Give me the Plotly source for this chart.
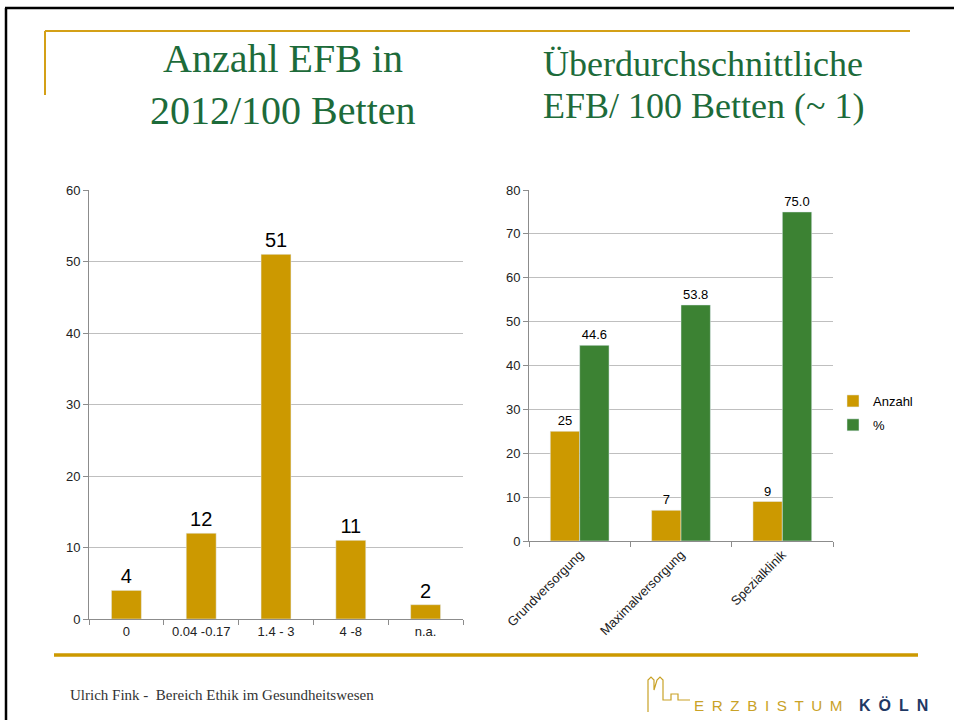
import plotly.graph_objects as go

# ---- data ----
left_categories = ["0", "0.04 -0.17", "1.4 - 3", "4 -8", "n.a."]
left_values = [4, 12, 51, 11, 2]

right_categories = ["Grundversorgung", "Maximalversorgung", "Spezialklinik"]
anzahl_values = [25, 7, 9]
prozent_values = [44.6, 53.8, 75.0]

title_left = ["Anzahl EFB in", "2012/100 Betten"]
title_right = ["Überdurchschnittliche", "EFB/ 100 Betten (~ 1)"]
footer_text = "Ulrich Fink -  Bereich Ethik im Gesundheitswesen"

W, H = 954, 720
GOLD = "#CC9900"
GREEN = "#3C8233"
TITLE_GREEN = "#1D6B3A"
SANS = "Liberation Sans, Arial, sans-serif"
SERIF = "Liberation Serif, Times New Roman, serif"


def px(x):
    return x / W


def py(y):
    return 1 - y / H


fig = go.Figure()

fig.add_trace(go.Bar(
    x=left_categories, y=left_values, xaxis="x", yaxis="y",
    marker=dict(color=GOLD), width=0.4,
    text=[str(v) for v in left_values], textposition="outside",
    textfont=dict(family=SANS, size=20, color="#000000"),
    cliponaxis=False, showlegend=False,
))

fig.add_trace(go.Bar(
    x=right_categories, y=anzahl_values, xaxis="x2", yaxis="y2",
    name="Anzahl", legendgroup="a", marker=dict(color=GOLD), width=0.29, offset=-0.29,
    text=[str(v) for v in anzahl_values], textposition="outside",
    textfont=dict(family=SANS, size=13, color="#000000"),
    cliponaxis=False,
))
fig.add_trace(go.Bar(
    x=right_categories, y=prozent_values, xaxis="x2", yaxis="y2",
    name="%", legendgroup="b", marker=dict(color=GREEN), width=0.29, offset=0,
    text=[f"{v:.1f}" for v in prozent_values], textposition="outside",
    textfont=dict(family=SANS, size=13, color="#000000"),
    cliponaxis=False,
))

axis_common = dict(
    showline=True, linecolor="#8C8C8C", linewidth=1,
    tickfont=dict(family=SANS, size=13, color="#222222"),
    ticks="outside", ticklen=5, tickcolor="#8C8C8C",
    automargin=False,
)

fig.update_layout(
    width=W, height=H, autosize=False,
    margin=dict(l=0, r=0, t=0, b=0, pad=0, autoexpand=False),
    paper_bgcolor="white", plot_bgcolor="white",
    barmode="overlay",
    xaxis=dict(domain=[px(89), px(463)], anchor="y", tickson="boundaries",
               showgrid=False, **axis_common),
    yaxis=dict(domain=[py(619), py(190)], anchor="x", range=[0, 60], dtick=10,
               showgrid=True, gridcolor="#BFBFBF", gridwidth=1, zeroline=False,
               **axis_common),
    xaxis2=dict(domain=[px(529), px(833)], anchor="y2", tickson="boundaries",
                tickangle=-45, showgrid=False, **axis_common),
    yaxis2=dict(domain=[py(541), py(190)], anchor="x2", range=[0, 80], dtick=10,
                showgrid=True, gridcolor="#BFBFBF", gridwidth=1, zeroline=False,
                **axis_common),
    legend=dict(x=px(833), y=py(413), xanchor="left", yanchor="middle",
                font=dict(family=SANS, size=13, color="#000000"),
                bgcolor="rgba(0,0,0,0)", tracegroupgap=4),
    showlegend=True,
)

shapes = [
    # black slide frame
    dict(type="line", xref="paper", yref="paper", x0=px(5), x1=1, y0=py(8), y1=py(8),
         line=dict(color="#000000", width=2.5)),
    dict(type="line", xref="paper", yref="paper", x0=px(6), x1=px(6), y0=py(8), y1=0,
         line=dict(color="#000000", width=2.5)),
    # gold header lines
    dict(type="line", xref="paper", yref="paper", x0=px(45), x1=px(910), y0=py(31), y1=py(31),
         line=dict(color="#D4A017", width=2)),
    dict(type="line", xref="paper", yref="paper", x0=px(45), x1=px(45), y0=py(31), y1=py(95),
         line=dict(color="#D4A017", width=2)),
    # gold footer line
    dict(type="line", xref="paper", yref="paper", x0=px(54), x1=px(918), y0=py(655), y1=py(655),
         line=dict(color="#CC9900", width=3.5)),
]

# logo skyline outline (decorative)
sky = [(648, 712), (648, 680), (651, 677), (654, 680), (654, 690), (657, 680), (660, 677),
       (663, 680), (663, 700), (671, 700), (671, 694), (678, 694), (678, 700), (690, 700)]
path = "M " + " L ".join(f"{px(x)},{py(y)}" for x, y in sky)
shapes.append(dict(type="path", xref="paper", yref="paper", path=path,
                   line=dict(color="#C9A227", width=1.2)))
fig.update_layout(shapes=shapes)

annotations = []
for i, t in enumerate(title_left):
    annotations.append(dict(text=t, x=px(283), y=py([58, 110][i]), xref="paper", yref="paper",
                            showarrow=False, xanchor="center", yanchor="middle",
                            font=dict(family=SERIF, size=40, color=TITLE_GREEN)))
for i, t in enumerate(title_right):
    annotations.append(dict(text=t, x=px(541), y=py([64, 106][i]), xref="paper", yref="paper",
                            showarrow=False, xanchor="left", yanchor="middle",
                            font=dict(family=SERIF, size=36, color=TITLE_GREEN)))
annotations.append(dict(text=footer_text, x=px(68), y=py(695), xref="paper", yref="paper",
                        showarrow=False, xanchor="left", yanchor="middle",
                        font=dict(family=SERIF, size=15, color="#333333")))
annotations.append(dict(text="\u2002".join("ERZBISTUM"), x=px(692), y=py(705),
                        xref="paper", yref="paper",
                        showarrow=False, xanchor="left", yanchor="middle",
                        font=dict(family=SANS, size=15.2, color="#C9A227")))
annotations.append(dict(text="<b>" + "\u2002".join("KÖLN") + "</b>", x=px(857), y=py(705),
                        xref="paper", yref="paper",
                        showarrow=False, xanchor="left", yanchor="middle",
                        font=dict(family=SANS, size=16, color="#1F3864")))
fig.update_layout(annotations=annotations)

fig.write_html(
    "out.html",
    config={"displayModeBar": False},
    post_script="document.body.style.margin='0';document.body.style.overflow='hidden';",
)
